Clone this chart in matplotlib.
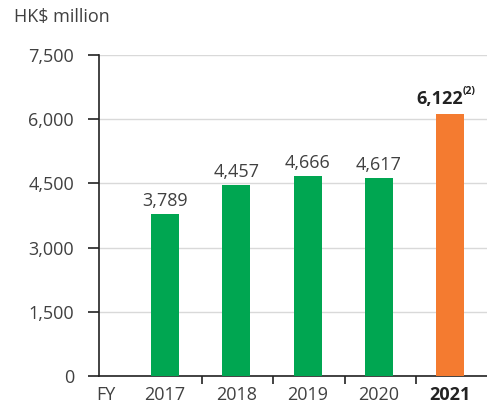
import matplotlib
matplotlib.use("Agg")
import matplotlib.pyplot as plt

years = ["2017", "2018", "2019", "2020", "2021"]
values = [3789, 4457, 4666, 4617, 6122]
labels = ["3,789", "4,457", "4,666", "4,617", "6,122"]
yticks = [0, 1500, 3000, 4500, 6000, 7500]
ytick_labels = ["0", "1,500", "3,000", "4,500", "6,000", "7,500"]

CLR_GREEN = "#00a651"
CLR_ORANGE = "#f47b30"
CLR_TEXT = "#404040"
CLR_GRID = "#d9d9d9"

plt.rcParams["font.family"] = ["Open Sans", "DejaVu Sans"]

W, H = 487, 409
fig = plt.figure(figsize=(W / 100, H / 100), dpi=100)
ax = fig.add_axes([99 / W, (H - 376) / H, (W - 99) / W, (376 - 55) / H])

x = list(range(len(years)))
colors = [CLR_GREEN] * 4 + [CLR_ORANGE]
ax.bar(x, values, width=0.39, color=colors, zorder=3)

ax.set_xlim(-0.926, 4.516)
ax.set_ylim(0, 7500)
ax.set_yticks(yticks)
ax.set_yticklabels(ytick_labels)
ax.grid(axis="y", color=CLR_GRID, linewidth=1.0, zorder=0)
ax.tick_params(axis="y", length=8, width=1.2, color="#222222", pad=10,
               labelsize=13, labelcolor=CLR_TEXT)

for side in ("top", "right"):
    ax.spines[side].set_visible(False)
for side in ("left", "bottom"):
    ax.spines[side].set_color("#222222")
    ax.spines[side].set_linewidth(1.2)

# x ticks between categories, labels drawn as text
ax.set_xticks([i + 0.52 for i in range(4)])
ax.set_xticklabels([])
ax.tick_params(axis="x", length=6, width=1.2, color="#222222", direction="out")

for i, yr in enumerate(years):
    ax.annotate(yr, xy=(i, 0), xytext=(0, -7), textcoords="offset points",
                ha="center", va="top", fontsize=13,
                color="#222222" if i == 4 else CLR_TEXT,
                fontweight="bold" if i == 4 else "normal", annotation_clip=False)
ax.annotate("FY", xy=(-0.926, 0), xytext=(-2, -7), textcoords="offset points",
            ha="left", va="top", fontsize=13, color=CLR_TEXT, annotation_clip=False)

for i in range(4):
    ax.annotate(labels[i], xy=(i, values[i]), xytext=(0, 3), textcoords="offset points",
                ha="center", va="bottom", fontsize=13, color=CLR_TEXT)

ax.annotate(labels[4], xy=(4, values[4]), xytext=(9, 4), textcoords="offset points",
            ha="right", va="bottom", fontsize=13, color="#222222", fontweight="bold")
ax.annotate("(2)", xy=(4, values[4]), xytext=(9, 12), textcoords="offset points",
            ha="left", va="bottom", fontsize=7.5, color="#222222", fontweight="bold")

fig.text(14 / W, 1 - 17 / H, "HK$ million", ha="left", va="center",
         fontsize=13, color=CLR_TEXT)

fig.savefig("out.png", dpi=100, facecolor="white")
